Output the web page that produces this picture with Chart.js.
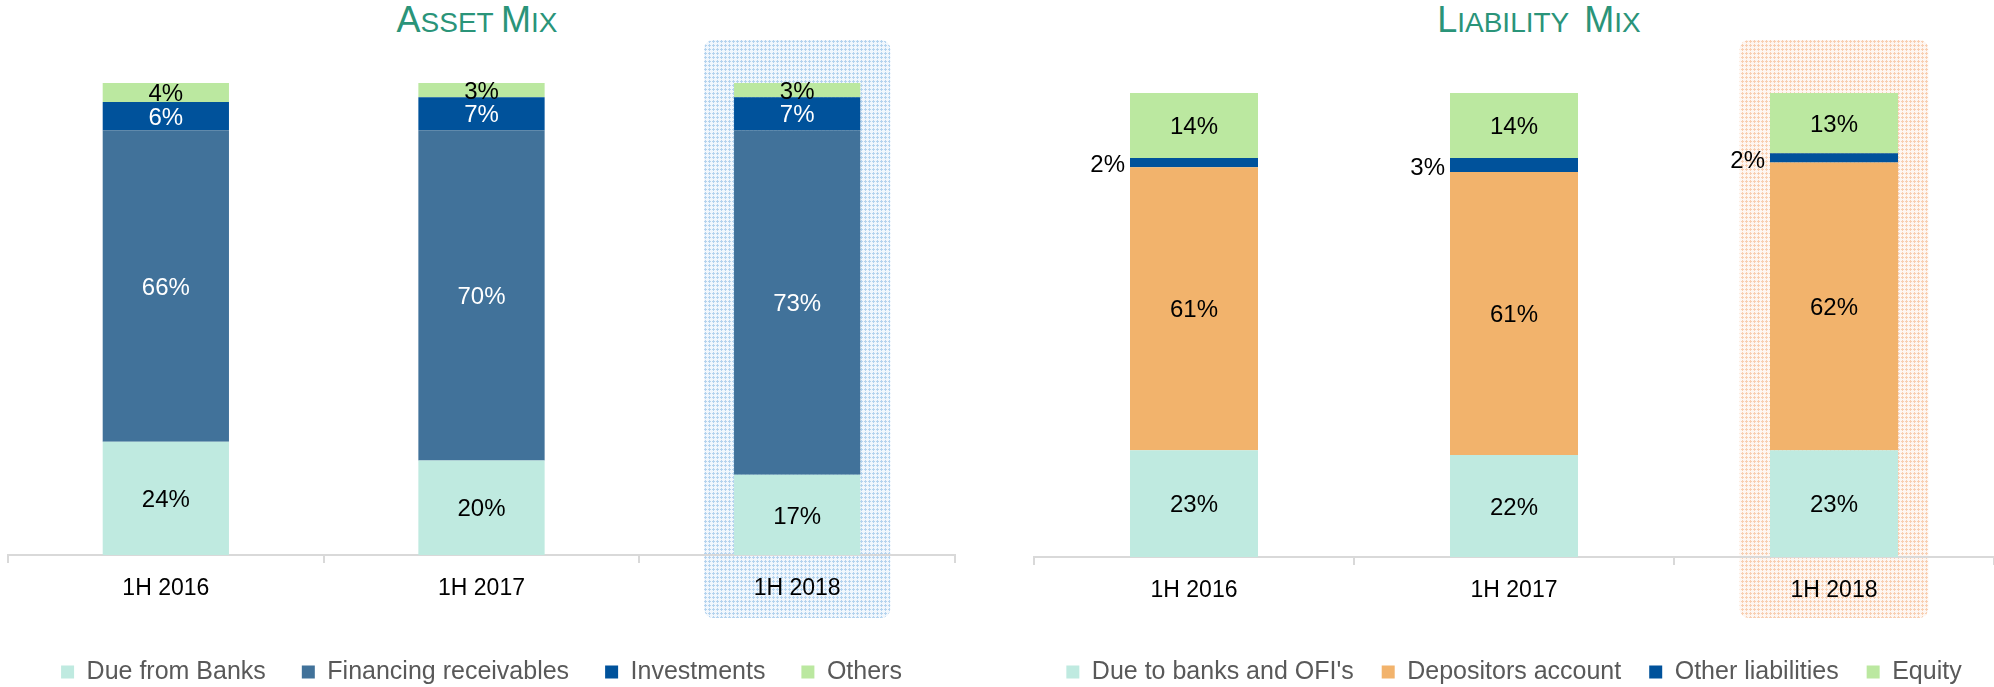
<!DOCTYPE html>
<html>
<head>
<meta charset="utf-8">
<title>Asset and Liability Mix</title>
<script src="https://cdn.jsdelivr.net/npm/chart.js@4.4.1/dist/chart.umd.min.js"></script>
<style>
  html, body { margin: 0; padding: 0; width: 1994px; height: 687px; overflow: hidden; background: #fff; }
  .panel { position: absolute; top: 0; width: 997px; height: 687px; }
  .title {
    position: absolute; top: 2px; width: 400px; text-align: center; white-space: pre;
    font-family: 'Liberation Sans', Arial, sans-serif; font-size: 28px; line-height: 36px;
    color: #2a9479;
  }
  .title b { font-weight: normal; font-size: 36px; }
</style>
</head>
<body>
<div class="title" style="left:277px;"><b>A</b>SSET <b>M</b>IX</div>
<div class="title" style="left:1339px;"><b>L</b>IABILITY  <b>M</b>IX</div>
<div class="panel" style="left:0;"><canvas id="assetMix"></canvas></div>
<div class="panel" style="left:997px;"><canvas id="liabilityMix"></canvas></div>
<script>
const periods = ['1H 2016', '1H 2017', '1H 2018'];

// asset mix (%)
const dueFromBanks = [24, 20, 17];
const financingReceivables = [66, 70, 73];
const investments = [6, 7, 7];
const otherAssets = [4, 3, 3];

// liability mix (%)
const dueToBanks = [23, 22, 23];
const depositorsAccount = [61, 61, 62];
const otherLiabilities = [2, 3, 2];
const equity = [14, 14, 13];

const FONT = "'Liberation Sans', Arial, sans-serif";

function makePattern(bg, dot) {
    const c = document.createElement('canvas');
    c.width = 4; c.height = 4;
    const p = c.getContext('2d');
    p.fillStyle = bg;
    p.fillRect(0, 0, 4, 4);
    p.fillStyle = dot;
    p.fillRect(1, 0, 1, 3);
    p.fillRect(0, 1, 3, 1);
    return p.createPattern(c, 'repeat');
}

// dotted rounded box behind the latest period
const highlightPlugin = {
    id: 'highlight',
    beforeDraw(chart, args, opts) {
        const x = chart.scales.x;
        const ctx = chart.ctx;
        const step = x.getPixelForValue(1) - x.getPixelForValue(0);
        const cx = x.getPixelForValue(opts.index);
        const w = step * 0.59;
        ctx.save();
        ctx.fillStyle = makePattern(opts.bg, opts.dot);
        ctx.beginPath();
        ctx.roundRect(cx - w / 2, 40, w, 578, 9);
        ctx.fill();
        ctx.restore();
    }
};

// percentage labels on every segment
const segmentLabels = {
    id: 'segmentLabels',
    afterDatasetsDraw(chart) {
        const ctx = chart.ctx;
        ctx.save();
        ctx.font = '24px ' + FONT;
        ctx.textBaseline = 'middle';
        chart.data.datasets.forEach((ds, i) => {
            chart.getDatasetMeta(i).data.forEach((bar, j) => {
                const y = (bar.y + bar.base) / 2 + 2;
                ctx.fillStyle = ds.labelColor || '#000';
                if (ds.labelOutside) {
                    ctx.textAlign = 'right';
                    ctx.fillText(ds.data[j] + '%', bar.x - bar.width / 2 - 5, y + 1);
                } else {
                    ctx.textAlign = 'center';
                    ctx.fillText(ds.data[j] + '%', bar.x, y);
                }
            });
        });
        ctx.restore();
    }
};

function mixOptions(padding, axisHeight, legendPadding, box) {
    return {
        responsive: true,
        maintainAspectRatio: false,
        animation: false,
        layout: { padding: padding },
        plugins: {
            legend: {
                position: 'bottom',
                labels: {
                    color: '#595959',
                    font: { family: FONT, size: 25 },
                    boxWidth: 13,
                    boxHeight: 13,
                    padding: legendPadding
                }
            },
            tooltip: { enabled: false },
            highlight: box
        },
        scales: {
            x: {
                stacked: true,
                grid: { offset: true, drawOnChartArea: false, tickLength: 8, color: '#d9d9d9', lineWidth: 2 },
                border: { color: '#d9d9d9', width: 2 },
                ticks: { color: '#000', font: { family: FONT, size: 23 }, padding: 12 },
                afterFit: function (scale) { scale.height = axisHeight; }
            },
            y: { stacked: true, display: false, min: 0, max: 100 }
        }
    };
}

const assetMixChart = new Chart(document.getElementById('assetMix').getContext('2d'), {
    type: 'bar',
    data: {
        labels: periods,
        datasets: [
            { label: 'Due from Banks', data: dueFromBanks, backgroundColor: '#bfeae0' },
            { label: 'Financing receivables', data: financingReceivables, backgroundColor: '#41729a', labelColor: '#fff' },
            { label: 'Investments', data: investments, backgroundColor: '#00529b', labelColor: '#fff' },
            { label: 'Others', data: otherAssets, backgroundColor: '#bbe8a0' }
        ].map(d => Object.assign(d, { borderWidth: 0, barPercentage: 0.4, categoryPercentage: 1 }))
    },
    options: mixOptions({ top: 83, left: 8, right: 42, bottom: -7.5 }, 68.5, 36,
        { index: 2, bg: '#f1f7fd', dot: '#b4d3ee' }),
    plugins: [highlightPlugin, segmentLabels]
});

const liabilityMixChart = new Chart(document.getElementById('liabilityMix').getContext('2d'), {
    type: 'bar',
    data: {
        labels: periods,
        datasets: [
            { label: "Due to banks and OFI's", data: dueToBanks, backgroundColor: '#bfeae0' },
            { label: 'Depositors account', data: depositorsAccount, backgroundColor: '#f2b36c' },
            { label: 'Other liabilities', data: otherLiabilities, backgroundColor: '#00529b', labelOutside: true },
            { label: 'Equity', data: equity, backgroundColor: '#bbe8a0' }
        ].map(d => Object.assign(d, { borderWidth: 0, barPercentage: 0.4, categoryPercentage: 1 }))
    },
    options: mixOptions({ top: 93, left: 37, right: 0, bottom: -7.5 }, 74.5, 28,
        { index: 2, bg: '#fef6f1', dot: '#f8cfb2' }),
    plugins: [highlightPlugin, segmentLabels]
});
</script>
</body>
</html>
